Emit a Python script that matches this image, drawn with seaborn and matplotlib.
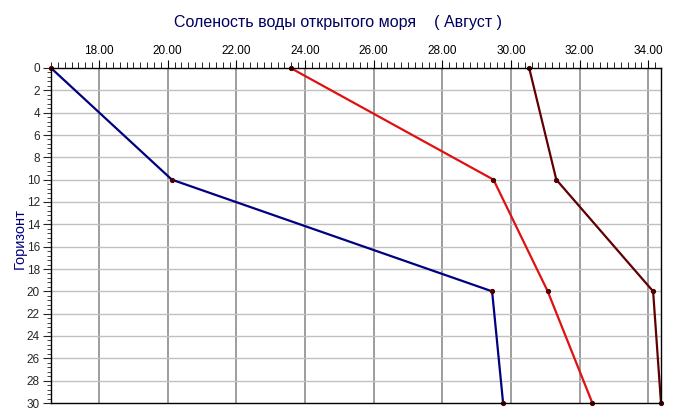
import matplotlib
matplotlib.use("Agg")
import matplotlib.pyplot as plt
from matplotlib.ticker import MultipleLocator, FormatStrFormatter
import seaborn as sns
import pandas as pd

# --- readings from the chart ---
depths = [0, 10, 20, 30]
salinity_blue = [16.60, 20.12, 29.45, 29.77]
salinity_red = [23.58, 29.49, 31.07, 32.37]
salinity_dark = [30.53, 31.32, 34.14, 34.37]

TITLE = "Соленость воды открытого моря    ( Август )"
YLABEL = "Горизонт"

series = [
    (salinity_blue, "#000080"),
    (salinity_red, "#e01010"),
    (salinity_dark, "#600000"),
]

sns.set_style("white")
plt.rcParams["font.family"] = ["Liberation Sans", "DejaVu Sans"]

fig = plt.figure(figsize=(6.75, 4.19), dpi=100)
ax = fig.add_axes([51 / 675, 1 - 403 / 419, 610 / 675, 335 / 419])

for vals, color in series:
    df = pd.DataFrame({"sal": vals, "depth": depths})
    sns.lineplot(data=df, x="sal", y="depth", sort=False, estimator=None,
                 color=color, linewidth=1.6, marker="o", markersize=3,
                 markerfacecolor="#500000", markeredgecolor="#500000",
                 clip_on=False, ax=ax)

ax.set_xlim(16.6, 34.37)
ax.set_ylim(30, 0)

ax.xaxis.set_major_locator(MultipleLocator(2))
ax.xaxis.set_minor_locator(MultipleLocator(0.2))
ax.xaxis.set_major_formatter(FormatStrFormatter("%.2f"))
ax.yaxis.set_major_locator(MultipleLocator(2))
ax.yaxis.set_minor_locator(MultipleLocator(0.4))

ax.xaxis.tick_top()
ax.tick_params(axis="x", which="both", top=True, bottom=False, direction="out",
               labelsize=8.5, colors="black", pad=2)
ax.tick_params(axis="x", which="major", length=6)
ax.tick_params(axis="x", which="minor", length=4)
ax.tick_params(axis="y", which="both", left=True, direction="out", labelsize=8.5, pad=2)
ax.tick_params(axis="y", which="major", length=6)
ax.tick_params(axis="y", which="minor", length=3)

ax.grid(False)
for x in range(18, 35, 2):
    ax.axvline(x, color="#8c8c8c", linewidth=1.2, zorder=0)
for y in range(2, 30, 2):
    ax.axhline(y, color="#c0c0c0", linewidth=1.0, zorder=0)

for side in ax.spines.values():
    side.set_color("black")
    side.set_linewidth(1.0)

ax.set_xlabel("")
ax.set_ylabel(YLABEL, color="#000080", fontsize=10.5)
ax.yaxis.set_label_coords(-0.039, 0.49)

fig.text(0.5, 1 - 22 / 419, TITLE, ha="center", va="center",
         color="#000060", fontsize=11.5)

fig.savefig("out.png", dpi=100)
